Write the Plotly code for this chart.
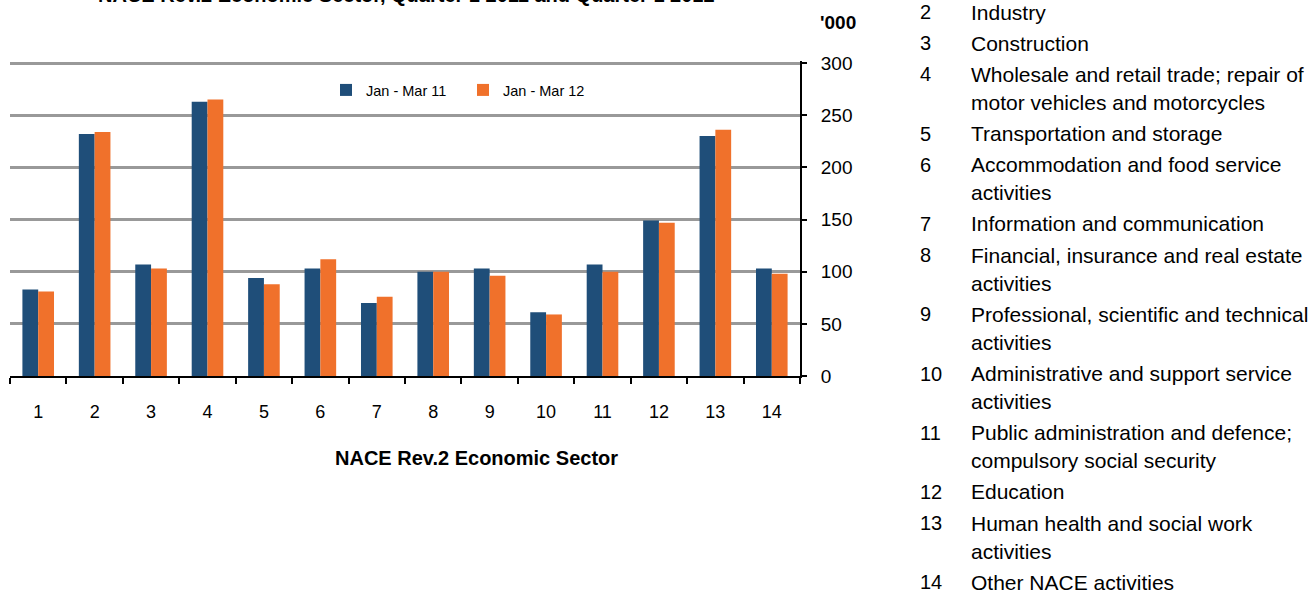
import plotly.graph_objects as go

# ---------------- data ----------------
categories = ["1", "2", "3", "4", "5", "6", "7", "8", "9", "10", "11", "12", "13", "14"]
jan_mar_11 = [83, 232, 107, 263, 94, 103, 70, 100, 103, 61, 107, 149, 230, 103]
jan_mar_12 = [81, 234, 103, 265, 88, 112, 76, 100, 96, 59, 100, 147, 236, 98]
series_names = ["Jan - Mar 11", "Jan - Mar 12"]
y_ticks = [0, 50, 100, 150, 200, 250, 300]

sector_numbers = ["2", "3", "4", "5", "6", "7", "8", "9", "10", "11", "12", "13", "14"]
sector_labels = [
    ["Industry"],
    ["Construction"],
    ["Wholesale and retail trade; repair of", "motor vehicles and motorcycles"],
    ["Transportation and storage"],
    ["Accommodation and food service", "activities"],
    ["Information and communication"],
    ["Financial, insurance and real estate", "activities"],
    ["Professional, scientific and technical", "activities"],
    ["Administrative and support service", "activities"],
    ["Public administration and defence;", "compulsory social security"],
    ["Education"],
    ["Human health and social work", "activities"],
    ["Other NACE activities"],
]

title_text = "NACE Rev.2 Economic Sector, Quarter 1 2011 and Quarter 1 2012"
x_title = "NACE Rev.2 Economic Sector"
y_unit = "'000"

# ---------------- layout helpers ----------------
W, H = 1316, 591
Y_MAX = 302  # a little headroom so the 300 gridline is drawn
# plot area in screen pixels
L, R, T, B = 10, 800, 61, 376
FONT = "Liberation Sans, Arial, sans-serif"
BLUE = "#1F4E79"
ORANGE = "#F0712B"


def px_x(px):
    return (px - L) / (R - L)


def px_y(py):
    return (B - py) / (B - T)


fig = go.Figure()
fig.add_trace(go.Bar(x=categories, y=jan_mar_11, name=series_names[0],
                     marker=dict(color=BLUE, line=dict(width=0))))
fig.add_trace(go.Bar(x=categories, y=jan_mar_12, name=series_names[1],
                     marker=dict(color=ORANGE, line=dict(width=0))))

annotations = []
# title (partially cut at top)
annotations.append(dict(text="<b>" + title_text + "</b>", xref="paper", yref="paper",
                        x=px_x(406), y=px_y(8), xanchor="center", yanchor="bottom",
                        showarrow=False, font=dict(family=FONT, size=20, color="black")))
# x axis title
annotations.append(dict(text="<b>" + x_title + "</b>", xref="paper", yref="paper",
                        x=px_x(476), y=px_y(458), xanchor="center", yanchor="middle",
                        showarrow=False, font=dict(family=FONT, size=20, color="black")))
# unit label
annotations.append(dict(text="<b>" + y_unit + "</b>", xref="paper", yref="paper",
                        x=px_x(818), y=px_y(22), xanchor="left", yanchor="middle",
                        showarrow=False, font=dict(family=FONT, size=19, color="black")))

# sector list on the right
y_cur = 12.0
ITEM_STEP = 31.2
WRAP_STEP = 28.0
for i, (num, lines) in enumerate(zip(sector_numbers, sector_labels)):
    if i > 0:
        y_cur += ITEM_STEP
    annotations.append(dict(text=num, xref="paper", yref="paper",
                            x=px_x(918), y=px_y(y_cur), xanchor="left", yanchor="middle",
                            showarrow=False, font=dict(family=FONT, size=20, color="black")))
    for j, line in enumerate(lines):
        if j > 0:
            y_cur += WRAP_STEP
        annotations.append(dict(text=line, xref="paper", yref="paper",
                                x=px_x(969), y=px_y(y_cur), xanchor="left", yanchor="middle",
                                showarrow=False, font=dict(family=FONT, size=21, color="black")))

fig.update_layout(
    width=W, height=H,
    margin=dict(l=L, r=W - R, t=T, b=H - B, pad=0),
    paper_bgcolor="white", plot_bgcolor="white",
    barmode="group", bargap=0.44, bargroupgap=0,
    font=dict(family=FONT, size=18, color="black"),
    showlegend=True,
    legend=dict(orientation="h", x=px_x(326), y=px_y(90), xanchor="left", yanchor="middle",
                font=dict(family=FONT, size=14.5, color="black"),
                entrywidth=92, entrywidthmode="pixels",
                bgcolor="rgba(0,0,0,0)", traceorder="normal"),
    annotations=annotations,
    xaxis=dict(type="category", showline=True, linecolor="black", linewidth=2,
               ticks="outside", tickson="boundaries", ticklen=6, tickwidth=2,
               tickcolor="black", showgrid=False, zeroline=False,
               tickfont=dict(family=FONT, size=18, color="black"),
               ticklabelstandoff=18, fixedrange=True),
    yaxis=dict(side="right", range=[0, Y_MAX], tickvals=y_ticks,
               showline=True, linecolor="black", linewidth=2,
               ticks="outside", ticklen=5, tickwidth=2, tickcolor="black",
               showgrid=True, gridcolor="#999999", gridwidth=2.5,
               zeroline=False, tickfont=dict(family=FONT, size=19, color="black"),
               ticklabelstandoff=10, fixedrange=True),
)

fig.write_html("out.html", config={"displayModeBar": False},
               post_script="document.body.style.margin='0px';")
